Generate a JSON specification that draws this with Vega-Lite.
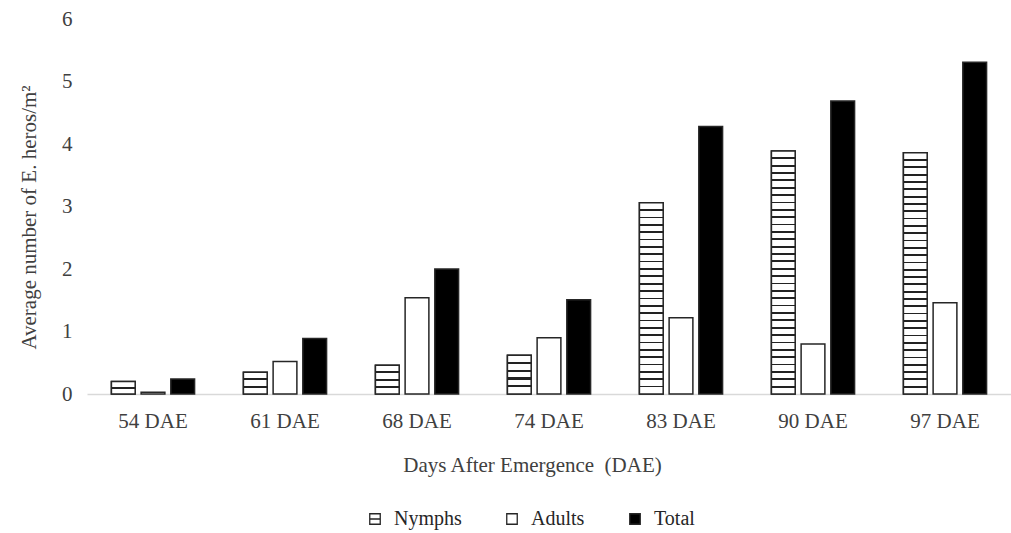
{
"$schema": "https://vega.github.io/schema/vega-lite/v6.json",
"width": 924, "height": 375,
"autosize": {"type": "none"},
"padding": {"left": 87, "top": 19, "right": 0, "bottom": 139},
"background": "white",
"config": {"view": {"stroke": null}, "font": "Liberation Serif"},
"data": {"values": [
{"day": "54 DAE", "series": "Nymphs", "value": 0.2},
{"day": "54 DAE", "series": "Adults", "value": 0.03},
{"day": "54 DAE", "series": "Total", "value": 0.24},
{"day": "61 DAE", "series": "Nymphs", "value": 0.35},
{"day": "61 DAE", "series": "Adults", "value": 0.52},
{"day": "61 DAE", "series": "Total", "value": 0.89},
{"day": "68 DAE", "series": "Nymphs", "value": 0.46},
{"day": "68 DAE", "series": "Adults", "value": 1.54},
{"day": "68 DAE", "series": "Total", "value": 2.0},
{"day": "74 DAE", "series": "Nymphs", "value": 0.62},
{"day": "74 DAE", "series": "Adults", "value": 0.9},
{"day": "74 DAE", "series": "Total", "value": 1.51},
{"day": "83 DAE", "series": "Nymphs", "value": 3.06},
{"day": "83 DAE", "series": "Adults", "value": 1.22},
{"day": "83 DAE", "series": "Total", "value": 4.28},
{"day": "90 DAE", "series": "Nymphs", "value": 3.89},
{"day": "90 DAE", "series": "Adults", "value": 0.8},
{"day": "90 DAE", "series": "Total", "value": 4.69},
{"day": "97 DAE", "series": "Nymphs", "value": 3.86},
{"day": "97 DAE", "series": "Adults", "value": 1.46},
{"day": "97 DAE", "series": "Total", "value": 5.31}
]},
"encoding": {
"x": {"field": "day", "type": "nominal",
 "scale": {"domain": ["54 DAE","61 DAE","68 DAE","74 DAE","83 DAE","90 DAE","97 DAE"], "paddingInner": 0.37, "paddingOuter": 0.185},
 "axis": {"title": "Days After Emergence \u00a0(DAE)", "labelAngle": 0, "ticks": false, "domainColor": "#d9d9d9", "domainWidth": 1.3,
  "labelFont": "Liberation Serif", "labelFontSize": 21, "labelColor": "#404040", "labelPadding": 16,
  "titleFont": "Liberation Serif", "titleFontSize": 21, "titleFontWeight": "normal", "titleColor": "#404040", "titlePadding": 23, "titleX": 445}},
"xOffset": {"field": "series", "type": "nominal", "scale": {"domain": ["Nymphs","Adults","Total"], "paddingInner": 0.2}},
"y": {"field": "value", "type": "quantitative", "scale": {"domain": [0, 6], "nice": false},
 "axis": {"values": [0,1,2,3,4,5,6], "domain": false, "ticks": false, "grid": false,
  "labelFont": "Liberation Serif", "labelFontSize": 21, "labelColor": "#404040", "labelPadding": 15,
  "title": "Average number of E. heros/m²", "titleFont": "Liberation Serif", "titleFontSize": 21, "titleFontWeight": "normal", "titleColor": "#404040", "titlePadding": 22, "titleY": 198}}
},
"layer": [
{"mark": {"type": "bar", "stroke": "#262626", "strokeWidth": 1.5},
 "encoding": {"fill": {"field": "series", "type": "nominal",
  "scale": {"domain": ["Nymphs","Adults","Total"], "range": ["white","white","black"]},
  "legend": {"title": null, "orient": "none", "legendX": 278, "legendY": 490, "direction": "horizontal",
   "symbolType": "square", "symbolSize": 110, "symbolStrokeColor": "#262626", "symbolStrokeWidth": 1.3,
   "labelFont": "Liberation Serif", "labelFontSize": 20, "labelColor": "#262626", "labelOffset": 9, "columnPadding": 40, "padding": 0,
   "encode": {"symbols": {"update": {"shape": [{"test": "datum.label === 'Nymphs'", "value": "M-1,-1H1V1H-1ZM-1,0H1"}, {"value": "square"}], "stroke": {"value": "#262626"}}}}}}}},
{"transform": [{"filter": "datum.series === 'Nymphs' && datum.day === '54 DAE'"}],
 "mark": {"type": "bar", "stroke": "#262626", "strokeWidth": 1.5, "fill": {"gradient": "linear", "x1": 0, "y1": 0, "x2": 0, "y2": 1, "stops": [
 {"offset": 0, "color": "#fff"},
 {"offset": 0.44, "color": "#fff"},{"offset": 0.44, "color": "#222"},{"offset": 0.56, "color": "#222"},{"offset": 0.56, "color": "#fff"},
 {"offset": 1, "color": "#fff"}]}}},
{"transform": [{"filter": "datum.series === 'Nymphs' && datum.day === '61 DAE'"}],
 "mark": {"type": "bar", "stroke": "#262626", "strokeWidth": 1.5, "fill": {"gradient": "linear", "x1": 0, "y1": 0, "x2": 0, "y2": 1, "stops": [
 {"offset": 0, "color": "#fff"},
 {"offset": 0.288, "color": "#fff"},{"offset": 0.288, "color": "#222"},{"offset": 0.378, "color": "#222"},{"offset": 0.378, "color": "#fff"},
 {"offset": 0.622, "color": "#fff"},{"offset": 0.622, "color": "#222"},{"offset": 0.712, "color": "#222"},{"offset": 0.712, "color": "#fff"},
 {"offset": 1, "color": "#fff"}]}}},
{"transform": [{"filter": "datum.series === 'Nymphs' && datum.day === '68 DAE'"}],
 "mark": {"type": "bar", "stroke": "#262626", "strokeWidth": 1.5, "fill": {"gradient": "linear", "x1": 0, "y1": 0, "x2": 0, "y2": 1, "stops": [
 {"offset": 0, "color": "#fff"},
 {"offset": 0.217, "color": "#fff"},{"offset": 0.217, "color": "#222"},{"offset": 0.283, "color": "#222"},{"offset": 0.283, "color": "#fff"},
 {"offset": 0.467, "color": "#fff"},{"offset": 0.467, "color": "#222"},{"offset": 0.533, "color": "#222"},{"offset": 0.533, "color": "#fff"},
 {"offset": 0.717, "color": "#fff"},{"offset": 0.717, "color": "#222"},{"offset": 0.783, "color": "#222"},{"offset": 0.783, "color": "#fff"},
 {"offset": 1, "color": "#fff"}]}}},
{"transform": [{"filter": "datum.series === 'Nymphs' && datum.day === '74 DAE'"}],
 "mark": {"type": "bar", "stroke": "#262626", "strokeWidth": 1.5, "fill": {"gradient": "linear", "x1": 0, "y1": 0, "x2": 0, "y2": 1, "stops": [
 {"offset": 0, "color": "#fff"},
 {"offset": 0.174, "color": "#fff"},{"offset": 0.174, "color": "#222"},{"offset": 0.226, "color": "#222"},{"offset": 0.226, "color": "#fff"},
 {"offset": 0.374, "color": "#fff"},{"offset": 0.374, "color": "#222"},{"offset": 0.426, "color": "#222"},{"offset": 0.426, "color": "#fff"},
 {"offset": 0.574, "color": "#fff"},{"offset": 0.574, "color": "#222"},{"offset": 0.626, "color": "#222"},{"offset": 0.626, "color": "#fff"},
 {"offset": 0.774, "color": "#fff"},{"offset": 0.774, "color": "#222"},{"offset": 0.826, "color": "#222"},{"offset": 0.826, "color": "#fff"},
 {"offset": 1, "color": "#fff"}]}}},
{"transform": [{"filter": "datum.series === 'Nymphs' && datum.day === '83 DAE'"}],
 "mark": {"type": "bar", "stroke": "#262626", "strokeWidth": 1.5, "fill": {"gradient": "linear", "x1": 0, "y1": 0, "x2": 0, "y2": 1, "stops": [
 {"offset": 0, "color": "#fff"},
 {"offset": 0.0340, "color": "#fff"},{"offset": 0.0340, "color": "#222"},{"offset": 0.0430, "color": "#222"},{"offset": 0.0430, "color": "#fff"},
 {"offset": 0.0724, "color": "#fff"},{"offset": 0.0724, "color": "#222"},{"offset": 0.0814, "color": "#222"},{"offset": 0.0814, "color": "#fff"},
 {"offset": 0.1109, "color": "#fff"},{"offset": 0.1109, "color": "#222"},{"offset": 0.1199, "color": "#222"},{"offset": 0.1199, "color": "#fff"},
 {"offset": 0.1494, "color": "#fff"},{"offset": 0.1494, "color": "#222"},{"offset": 0.1584, "color": "#222"},{"offset": 0.1584, "color": "#fff"},
 {"offset": 0.1878, "color": "#fff"},{"offset": 0.1878, "color": "#222"},{"offset": 0.1968, "color": "#222"},{"offset": 0.1968, "color": "#fff"},
 {"offset": 0.2263, "color": "#fff"},{"offset": 0.2263, "color": "#222"},{"offset": 0.2353, "color": "#222"},{"offset": 0.2353, "color": "#fff"},
 {"offset": 0.2647, "color": "#fff"},{"offset": 0.2647, "color": "#222"},{"offset": 0.2737, "color": "#222"},{"offset": 0.2737, "color": "#fff"},
 {"offset": 0.3032, "color": "#fff"},{"offset": 0.3032, "color": "#222"},{"offset": 0.3122, "color": "#222"},{"offset": 0.3122, "color": "#fff"},
 {"offset": 0.3417, "color": "#fff"},{"offset": 0.3417, "color": "#222"},{"offset": 0.3507, "color": "#222"},{"offset": 0.3507, "color": "#fff"},
 {"offset": 0.3801, "color": "#fff"},{"offset": 0.3801, "color": "#222"},{"offset": 0.3891, "color": "#222"},{"offset": 0.3891, "color": "#fff"},
 {"offset": 0.4186, "color": "#fff"},{"offset": 0.4186, "color": "#222"},{"offset": 0.4276, "color": "#222"},{"offset": 0.4276, "color": "#fff"},
 {"offset": 0.4570, "color": "#fff"},{"offset": 0.4570, "color": "#222"},{"offset": 0.4660, "color": "#222"},{"offset": 0.4660, "color": "#fff"},
 {"offset": 0.4955, "color": "#fff"},{"offset": 0.4955, "color": "#222"},{"offset": 0.5045, "color": "#222"},{"offset": 0.5045, "color": "#fff"},
 {"offset": 0.5340, "color": "#fff"},{"offset": 0.5340, "color": "#222"},{"offset": 0.5430, "color": "#222"},{"offset": 0.5430, "color": "#fff"},
 {"offset": 0.5724, "color": "#fff"},{"offset": 0.5724, "color": "#222"},{"offset": 0.5814, "color": "#222"},{"offset": 0.5814, "color": "#fff"},
 {"offset": 0.6109, "color": "#fff"},{"offset": 0.6109, "color": "#222"},{"offset": 0.6199, "color": "#222"},{"offset": 0.6199, "color": "#fff"},
 {"offset": 0.6494, "color": "#fff"},{"offset": 0.6494, "color": "#222"},{"offset": 0.6584, "color": "#222"},{"offset": 0.6584, "color": "#fff"},
 {"offset": 0.6878, "color": "#fff"},{"offset": 0.6878, "color": "#222"},{"offset": 0.6968, "color": "#222"},{"offset": 0.6968, "color": "#fff"},
 {"offset": 0.7263, "color": "#fff"},{"offset": 0.7263, "color": "#222"},{"offset": 0.7353, "color": "#222"},{"offset": 0.7353, "color": "#fff"},
 {"offset": 0.7647, "color": "#fff"},{"offset": 0.7647, "color": "#222"},{"offset": 0.7737, "color": "#222"},{"offset": 0.7737, "color": "#fff"},
 {"offset": 0.8032, "color": "#fff"},{"offset": 0.8032, "color": "#222"},{"offset": 0.8122, "color": "#222"},{"offset": 0.8122, "color": "#fff"},
 {"offset": 0.8417, "color": "#fff"},{"offset": 0.8417, "color": "#222"},{"offset": 0.8507, "color": "#222"},{"offset": 0.8507, "color": "#fff"},
 {"offset": 0.8801, "color": "#fff"},{"offset": 0.8801, "color": "#222"},{"offset": 0.8891, "color": "#222"},{"offset": 0.8891, "color": "#fff"},
 {"offset": 0.9186, "color": "#fff"},{"offset": 0.9186, "color": "#222"},{"offset": 0.9276, "color": "#222"},{"offset": 0.9276, "color": "#fff"},
 {"offset": 0.9570, "color": "#fff"},{"offset": 0.9570, "color": "#222"},{"offset": 0.9660, "color": "#222"},{"offset": 0.9660, "color": "#fff"},
 {"offset": 1, "color": "#fff"}]}}},
{"transform": [{"filter": "datum.series === 'Nymphs' && (datum.day === '90 DAE' || datum.day === '97 DAE')"}],
 "mark": {"type": "bar", "stroke": "#262626", "strokeWidth": 1.5, "fill": {"gradient": "linear", "x1": 0, "y1": 0, "x2": 0, "y2": 1, "stops": [
 {"offset": 0, "color": "#fff"},
 {"offset": 0.0266, "color": "#fff"},{"offset": 0.0266, "color": "#222"},{"offset": 0.0340, "color": "#222"},{"offset": 0.0340, "color": "#fff"},
 {"offset": 0.0569, "color": "#fff"},{"offset": 0.0569, "color": "#222"},{"offset": 0.0643, "color": "#222"},{"offset": 0.0643, "color": "#fff"},
 {"offset": 0.0872, "color": "#fff"},{"offset": 0.0872, "color": "#222"},{"offset": 0.0946, "color": "#222"},{"offset": 0.0946, "color": "#fff"},
 {"offset": 0.1175, "color": "#fff"},{"offset": 0.1175, "color": "#222"},{"offset": 0.1249, "color": "#222"},{"offset": 0.1249, "color": "#fff"},
 {"offset": 0.1478, "color": "#fff"},{"offset": 0.1478, "color": "#222"},{"offset": 0.1552, "color": "#222"},{"offset": 0.1552, "color": "#fff"},
 {"offset": 0.1781, "color": "#fff"},{"offset": 0.1781, "color": "#222"},{"offset": 0.1855, "color": "#222"},{"offset": 0.1855, "color": "#fff"},
 {"offset": 0.2084, "color": "#fff"},{"offset": 0.2084, "color": "#222"},{"offset": 0.2158, "color": "#222"},{"offset": 0.2158, "color": "#fff"},
 {"offset": 0.2387, "color": "#fff"},{"offset": 0.2387, "color": "#222"},{"offset": 0.2461, "color": "#222"},{"offset": 0.2461, "color": "#fff"},
 {"offset": 0.2690, "color": "#fff"},{"offset": 0.2690, "color": "#222"},{"offset": 0.2764, "color": "#222"},{"offset": 0.2764, "color": "#fff"},
 {"offset": 0.2993, "color": "#fff"},{"offset": 0.2993, "color": "#222"},{"offset": 0.3067, "color": "#222"},{"offset": 0.3067, "color": "#fff"},
 {"offset": 0.3296, "color": "#fff"},{"offset": 0.3296, "color": "#222"},{"offset": 0.3370, "color": "#222"},{"offset": 0.3370, "color": "#fff"},
 {"offset": 0.3599, "color": "#fff"},{"offset": 0.3599, "color": "#222"},{"offset": 0.3673, "color": "#222"},{"offset": 0.3673, "color": "#fff"},
 {"offset": 0.3902, "color": "#fff"},{"offset": 0.3902, "color": "#222"},{"offset": 0.3976, "color": "#222"},{"offset": 0.3976, "color": "#fff"},
 {"offset": 0.4205, "color": "#fff"},{"offset": 0.4205, "color": "#222"},{"offset": 0.4279, "color": "#222"},{"offset": 0.4279, "color": "#fff"},
 {"offset": 0.4508, "color": "#fff"},{"offset": 0.4508, "color": "#222"},{"offset": 0.4582, "color": "#222"},{"offset": 0.4582, "color": "#fff"},
 {"offset": 0.4811, "color": "#fff"},{"offset": 0.4811, "color": "#222"},{"offset": 0.4885, "color": "#222"},{"offset": 0.4885, "color": "#fff"},
 {"offset": 0.5115, "color": "#fff"},{"offset": 0.5115, "color": "#222"},{"offset": 0.5189, "color": "#222"},{"offset": 0.5189, "color": "#fff"},
 {"offset": 0.5418, "color": "#fff"},{"offset": 0.5418, "color": "#222"},{"offset": 0.5492, "color": "#222"},{"offset": 0.5492, "color": "#fff"},
 {"offset": 0.5721, "color": "#fff"},{"offset": 0.5721, "color": "#222"},{"offset": 0.5795, "color": "#222"},{"offset": 0.5795, "color": "#fff"},
 {"offset": 0.6024, "color": "#fff"},{"offset": 0.6024, "color": "#222"},{"offset": 0.6098, "color": "#222"},{"offset": 0.6098, "color": "#fff"},
 {"offset": 0.6327, "color": "#fff"},{"offset": 0.6327, "color": "#222"},{"offset": 0.6401, "color": "#222"},{"offset": 0.6401, "color": "#fff"},
 {"offset": 0.6630, "color": "#fff"},{"offset": 0.6630, "color": "#222"},{"offset": 0.6704, "color": "#222"},{"offset": 0.6704, "color": "#fff"},
 {"offset": 0.6933, "color": "#fff"},{"offset": 0.6933, "color": "#222"},{"offset": 0.7007, "color": "#222"},{"offset": 0.7007, "color": "#fff"},
 {"offset": 0.7236, "color": "#fff"},{"offset": 0.7236, "color": "#222"},{"offset": 0.7310, "color": "#222"},{"offset": 0.7310, "color": "#fff"},
 {"offset": 0.7539, "color": "#fff"},{"offset": 0.7539, "color": "#222"},{"offset": 0.7613, "color": "#222"},{"offset": 0.7613, "color": "#fff"},
 {"offset": 0.7842, "color": "#fff"},{"offset": 0.7842, "color": "#222"},{"offset": 0.7916, "color": "#222"},{"offset": 0.7916, "color": "#fff"},
 {"offset": 0.8145, "color": "#fff"},{"offset": 0.8145, "color": "#222"},{"offset": 0.8219, "color": "#222"},{"offset": 0.8219, "color": "#fff"},
 {"offset": 0.8448, "color": "#fff"},{"offset": 0.8448, "color": "#222"},{"offset": 0.8522, "color": "#222"},{"offset": 0.8522, "color": "#fff"},
 {"offset": 0.8751, "color": "#fff"},{"offset": 0.8751, "color": "#222"},{"offset": 0.8825, "color": "#222"},{"offset": 0.8825, "color": "#fff"},
 {"offset": 0.9054, "color": "#fff"},{"offset": 0.9054, "color": "#222"},{"offset": 0.9128, "color": "#222"},{"offset": 0.9128, "color": "#fff"},
 {"offset": 0.9357, "color": "#fff"},{"offset": 0.9357, "color": "#222"},{"offset": 0.9431, "color": "#222"},{"offset": 0.9431, "color": "#fff"},
 {"offset": 0.9660, "color": "#fff"},{"offset": 0.9660, "color": "#222"},{"offset": 0.9734, "color": "#222"},{"offset": 0.9734, "color": "#fff"},
 {"offset": 1, "color": "#fff"}]}}}
]
}
